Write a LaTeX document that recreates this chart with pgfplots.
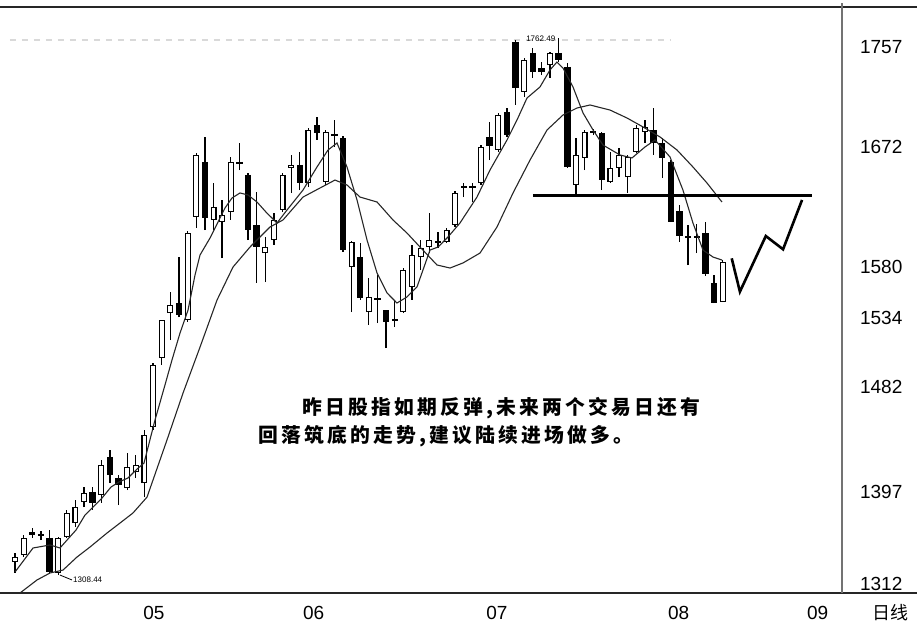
\documentclass[border=0pt]{standalone}
\usepackage{pgfplots}
\pgfplotsset{compat=1.18}
\usepackage{pgfplotstable}
\usepackage{fontspec}
\setmainfont{Liberation Sans}
\newfontfamily\cjk{Noto Sans CJK SC}
\newfontfamily\cjknote[LetterSpace=16]{Noto Sans CJK SC}

% white (rising) candles: day, open, high, low, close
\pgfplotstableread{
i  o      h      l      c
0  1330.3 1337.7 1321.2 1334.4
1  1336.1 1352.6 1334.4 1350.2
5  1321.2 1351.0 1319.5 1350.2
6  1351.0 1373.4 1350.2 1370.9
7  1362.6 1381.6 1359.3 1375.8
8  1380.0 1392.4 1375.8 1387.5
10 1385.8 1414.8 1379.2 1410.7
13 1391.6 1420.6 1389.9 1409.0
14 1404.9 1418.9 1399.9 1410.7
15 1395.7 1439.7 1384.1 1435.5
16 1442.1 1495.2 1439.7 1493.5
17 1499.3 1530.8 1493.5 1530.8
18 1536.6 1554.0 1514.2 1543.2
20 1530.8 1604.6 1529.2 1602.9
21 1616.2 1669.2 1607.1 1667.6
23 1613.7 1644.3 1605.4 1624.5
24 1612.0 1630.3 1582.2 1617.8
25 1620.3 1665.9 1613.7 1661.8
29 1586.3 1599.6 1562.3 1591.3
30 1597.1 1619.5 1593.0 1613.7
31 1622.0 1652.6 1620.3 1651.0
32 1656.8 1667.6 1636.1 1659.3
34 1644.3 1689.9 1641.0 1688.3
36 1645.2 1688.3 1642.7 1686.6
39 1574.7 1596.3 1537.4 1595.5
41 1537.4 1565.6 1526.7 1549.9
45 1537.4 1573.9 1536.6 1572.3
46 1558.2 1593.0 1547.4 1584.7
47 1583.0 1597.1 1572.3 1590.5
48 1591.3 1619.5 1586.3 1597.1
50 1595.5 1607.1 1594.6 1605.4
51 1609.5 1637.7 1607.9 1636.1
54 1644.3 1675.8 1642.7 1674.2
56 1671.7 1702.4 1670.0 1700.7
59 1719.8 1747.9 1715.6 1746.3
62 1742.1 1752.9 1731.4 1752.1
65 1642.7 1681.6 1634.4 1667.6
66 1665.1 1688.3 1655.1 1686.6
69 1645.2 1670.0 1644.3 1656.8
70 1656.8 1673.4 1649.3 1667.6
71 1649.3 1667.6 1636.1 1665.9
72 1670.0 1692.4 1669.2 1689.9
73 1686.6 1696.6 1677.5 1690.8
82 1545.7 1580.5 1545.7 1578.9
}\up

% black (falling) candles and crosses
\pgfplotstableread{
i  o      h      l      c
2  1355.1 1358.5 1350.2 1352.6
3  1353.5 1356.0 1348.5 1351.8
4  1350.2 1356.8 1321.2 1322.0
9  1388.3 1392.4 1373.4 1379.2
11 1417.3 1423.1 1395.7 1402.4
12 1399.9 1402.4 1377.5 1394.1
19 1544.9 1583.0 1533.3 1535.0
22 1661.8 1682.5 1605.4 1615.3
26 1661.8 1677.5 1655.1 1660.1
27 1651.0 1652.6 1597.1 1605.4
28 1609.5 1636.9 1561.5 1591.3
33 1659.3 1670.0 1638.5 1644.3
35 1692.4 1699.0 1680.0 1685.8
37 1685.0 1696.6 1674.2 1683.3
38 1681.6 1683.3 1587.2 1588.8
40 1583.0 1594.6 1547.4 1549.0
42 1549.0 1568.1 1528.3 1547.4
43 1539.1 1539.1 1507.6 1529.2
44 1531.6 1547.4 1525.0 1530.0
49 1596.3 1603.7 1590.5 1594.6
52 1641.9 1644.3 1632.7 1640.2
53 1641.9 1644.3 1628.6 1640.2
55 1682.5 1694.9 1663.4 1675.0
57 1703.2 1706.5 1682.5 1684.1
58 1761.2 1762.9 1709.0 1723.1
60 1752.1 1756.2 1731.4 1736.3
61 1739.6 1744.6 1733.8 1736.3
63 1752.1 1764.5 1744.6 1746.3
64 1740.5 1743.8 1656.8 1657.6
67 1687.4 1689.1 1684.1 1685.8
68 1685.8 1686.6 1638.5 1646.8
74 1688.3 1706.5 1667.6 1677.5
75 1677.5 1681.6 1648.5 1665.1
76 1661.8 1663.4 1612.0 1612.0
77 1621.1 1626.1 1595.5 1600.4
78 1600.4 1609.5 1576.4 1598.8
79 1600.4 1610.4 1586.3 1598.8
80 1602.9 1612.0 1567.3 1568.9
81 1561.5 1568.1 1544.9 1544.9
}\dn

\begin{document}
\begin{tikzpicture}
\useasboundingbox (0,-20pt) rectangle (458.5pt,296.5pt);
\begin{axis}[
  at={(0,0)}, anchor=south west,
  scale only axis, width=421pt, height=293pt,
  xmin=-1.74, xmax=95.83, ymin=1304.6, ymax=1790.2,
  axis line style={draw=none},
  major tick length=0pt,
  xtick={16.1,34.6,55.85,76.9,93.0},
  xticklabels={05,06,07,08,09},
  xticklabel style={anchor=center, yshift=-10pt},
  ytick={1312.0,1388.3,1475.3,1532.5,1574.7,1674.2,1757.1},
  yticklabels={1312,1397,1482,1534,1580,1672,1757},
  yticklabel pos=right,
  yticklabel style={anchor=west, xshift=5.5pt},
  tick label style={font=\fontsize{9.5}{11}\selectfont},
  clip=false,
]
% frame
\draw[line width=0.6pt, black!85] (rel axis cs:0,1) -- (rel axis cs:1.0891,1);
\draw[line width=0.6pt, black!85] (rel axis cs:0,0) -- (rel axis cs:1.0891,0);
\draw[line width=0.6pt, black!55] (rel axis cs:1,0) -- (rel axis cs:1,1.0068);
\draw[gray!30, dashed, line width=0.8pt] (axis cs:-0.6,1762.9) -- (axis cs:76,1762.9);

% wicks
\addplot[black, line width=0.65pt, no markers, quiver={u=0, v=\thisrow{h}-\thisrow{l}}] table[x=i, y=l] {\up};
\addplot[black, line width=0.65pt, no markers, quiver={u=0, v=\thisrow{h}-\thisrow{l}}] table[x=i, y=l] {\dn};
% bodies
\addplot[black, line width=3pt, no markers, quiver={u=0, v=\thisrow{c}-\thisrow{o}}] table[x=i, y=o] {\up};
\addplot[black, line width=3.2pt, no markers, quiver={u=0, v=\thisrow{c}-\thisrow{o}}] table[x=i, y=o] {\dn};
\addplot[white, line width=1.9pt, no markers, quiver={u=0, v=\thisrow{c}-\thisrow{o}-1.66}] table[x=i, y expr=\thisrow{o}+0.83] {\up};

% fast moving average
\addplot[black!85, line width=0.55pt] coordinates {
(0,1322.0) (2.09,1341.9) (4.06,1344.4) (5.21,1341.9) (6.03,1348.5) (7.07,1356.8)
(8.11,1369.2) (9.04,1375.8) (10.08,1383.3) (11.12,1392.4) (12.05,1396.6) (13.09,1399.9)
(14.02,1406.5) (14.95,1412.3) (16.22,1447.9) (17.38,1477.0) (18.19,1497.7) (19.12,1520.0)
(20.05,1539.1) (20.86,1568.1) (21.44,1584.7) (22.60,1598.8) (23.52,1612.0) (24.33,1623.6)
(25.14,1631.9) (26.07,1636.1) (27.00,1634.4) (28.04,1628.6) (29.08,1620.3) (30.36,1611.2)
(31.52,1622.0) (33.37,1638.5) (34.99,1657.6) (36.27,1671.7) (37.31,1677.5) (38.47,1657.6)
(39.63,1630.3) (40.79,1597.1) (41.95,1569.8) (43.11,1553.2) (44.26,1544.9) (45.42,1549.9)
(46.58,1558.2) (48.09,1588.8) (49.02,1591.3) (50.17,1599.6) (51.56,1611.2) (53.53,1632.7)
(55.04,1655.1) (57.01,1680.0) (58.17,1696.6) (59.33,1714.8) (60.83,1723.9) (61.99,1738.0)
(62.80,1744.6) (63.50,1739.6) (64.66,1723.9) (65.82,1702.4) (66.98,1688.3) (68.13,1675.8)
(70.10,1667.6) (71.49,1665.1) (73.00,1674.2) (74.16,1680.0) (75.90,1665.9) (77.40,1638.5)
(78.56,1611.2) (79.72,1588.8) (80.88,1583.0) (81.92,1580.5)};
% slow moving average
\addplot[black!85, line width=0.55pt] coordinates {
(0.58,1304.6) (2.55,1315.4) (4.06,1321.2) (5.56,1323.6) (7.18,1334.4) (8.69,1342.7)
(10.66,1354.3) (12.17,1362.6) (13.67,1370.9) (15.30,1384.1) (17.61,1431.4) (19.47,1470.3)
(21.44,1508.4) (23.41,1547.4) (25.26,1574.7) (27.23,1591.3) (29.55,1607.9) (31.05,1613.7)
(33.37,1632.7) (35.34,1640.2) (37.08,1646.8) (38.47,1642.7) (39.98,1632.7) (41.95,1628.6)
(43.80,1613.7) (45.42,1602.9) (46.93,1591.3) (48.90,1576.4) (50.41,1573.9) (51.91,1578.1)
(53.88,1586.3) (55.85,1607.9) (57.71,1636.1) (59.68,1663.4) (61.65,1688.3) (63.50,1700.7)
(65.12,1706.5) (66.63,1709.0) (68.95,1704.8) (70.92,1698.2) (72.77,1690.8) (74.74,1682.5)
(76.71,1671.7) (78.56,1657.6) (80.19,1644.3) (81.92,1628.6)};

% support line and projected path
\addplot[black, line width=1.5pt] coordinates {(60,1634.4) (92.35,1634.4)};
\addplot[black, line width=1.3pt] coordinates {(83.05,1581.9) (84.0,1554.3) (87.0,1600.4) (89.0,1589.4) (91.2,1630.3)};

% annotations
\draw[black, line width=0.4pt] (axis cs:5.2,1319.5) -- (axis cs:6.6,1315.4);
\node[anchor=west, inner sep=0, font=\fontsize{4}{4}\selectfont] at (axis cs:6.7,1315.4) {1308.44};
\node[anchor=west, inner sep=0, font=\fontsize{4}{4}\selectfont] at (axis cs:59.2,1763.5) {1762.49};

\node[anchor=west, inner sep=0, font=\cjknote\bfseries\fontsize{9.9}{11}\selectfont] at (axis cs:33.26,1457.9) {昨日股指如期反弹,未来两个交易日还有};
\node[anchor=west, inner sep=0, font=\cjknote\bfseries\fontsize{9.9}{11}\selectfont] at (axis cs:28.16,1434.7) {回落筑底的走势,建议陆续进场做多。};
\node[font=\cjk\fontsize{9}{10}\selectfont] at (rel axis cs:1.057,-0.0341) {日线};
\end{axis}
\end{tikzpicture}
\end{document}
